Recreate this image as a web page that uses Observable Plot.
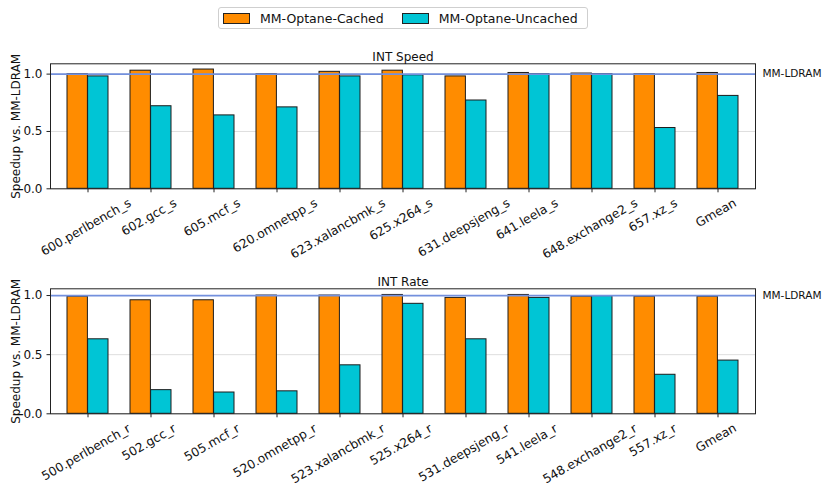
<!DOCTYPE html>
<html>
<head>
<meta charset="utf-8">
<script src="https://cdn.jsdelivr.net/npm/d3@7"></script>
<script src="https://cdn.jsdelivr.net/npm/@observablehq/plot@0.6"></script>
<style>
  html, body { margin: 0; padding: 0; background: #fff; }
  body { width: 830px; height: 494px; overflow: hidden; font-family: "DejaVu Sans", sans-serif; }
  #legendRow { height: 40px; position: relative; }
  #legend { position: absolute; left: 218px; top: 7px; width: 370px; height: 22px; box-sizing: border-box;
            border: 1px solid #cfcfcf; border-radius: 3px; display: flex; align-items: center; font-size: 12.5px; color: #111; }
  .item { display: flex; align-items: center; }
  .sw { width: 25px; height: 9px; border: 1px solid #222; margin-left: 4px; margin-right: 10px; }
  svg { display: block; }
</style>
</head>
<body>
<div id="legendRow"><div id="legend"></div></div>
<div id="p1"></div>
<div id="p2"></div>
<script>
const seriesNames = ["MM-Optane-Cached", "MM-Optane-Uncached"];
const seriesColors = ["#ff8c00", "#00c5d5"];

const speedBenches = ["600.perlbench_s", "602.gcc_s", "605.mcf_s", "620.omnetpp_s", "623.xalancbmk_s",
  "625.x264_s", "631.deepsjeng_s", "641.leela_s", "648.exchange2_s", "657.xz_s", "Gmean"];
const speedCached = [1.00, 1.03, 1.04, 1.00, 1.02, 1.03, 0.98, 1.01, 1.005, 1.00, 1.01];
const speedUncached = [0.98, 0.72, 0.64, 0.71, 0.98, 0.99, 0.77, 1.00, 1.00, 0.53, 0.81];

const rateBenches = ["500.perlbench_r", "502.gcc_r", "505.mcf_r", "520.omnetpp_r", "523.xalancbmk_r",
  "525.x264_r", "531.deepsjeng_r", "541.leela_r", "548.exchange2_r", "557.xz_r", "Gmean"];
const rateCached = [0.99, 0.96, 0.96, 1.00, 1.00, 1.005, 0.98, 1.005, 0.99, 0.99, 0.99];
const rateUncached = [0.63, 0.20, 0.18, 0.19, 0.41, 0.93, 0.63, 0.98, 0.995, 0.33, 0.45];

const yTicks = [0, 0.5, 1.0];
const baselineValue = [1.0];
const baselineLabel = "MM-LDRAM";
const yLabel = "Speedup vs. MM-LDRAM";

// legend
const legend = document.getElementById("legend");
seriesNames.forEach((name, i) => {
  const it = document.createElement("div");
  it.className = "item";
  it.style.marginRight = i === 0 ? "14px" : "0";
  const sw = document.createElement("div");
  sw.className = "sw";
  sw.style.background = seriesColors[i];
  const tx = document.createElement("span");
  tx.textContent = name;
  it.appendChild(sw); it.appendChild(tx);
  legend.appendChild(it);
});

const W = 830, ML = 50, MR = 75, PIN = 0.348, POUT = 0.25, FRAME_H = 125;

function panel(el, {benches, cached, uncached, title, yMax, height, marginTop}) {
  const n = benches.length;
  const step = (W - ML - MR) / (n - PIN + 2 * POUT);
  const half = step * (1 - PIN) / 2;
  const svg = Plot.plot({
    width: W,
    height,
    marginLeft: ML,
    marginRight: MR,
    marginTop,
    marginBottom: height - marginTop - FRAME_H,
    style: {fontFamily: "DejaVu Sans", fontSize: "12px", color: "#111", background: "#fff"},
    x: {domain: benches, paddingInner: PIN, paddingOuter: POUT, axis: null},
    y: {domain: [0, yMax], axis: null},
    marks: [
      Plot.ruleY(yTicks, {stroke: "#dedede", strokeWidth: 1}),
      Plot.barY(benches, {x: d => d, y: (d, i) => cached[i], fill: seriesColors[0], stroke: "#1c1c1c",
        strokeWidth: 1, insetRight: half}),
      Plot.barY(benches, {x: d => d, y: (d, i) => uncached[i], fill: seriesColors[1], stroke: "#1c1c1c",
        strokeWidth: 1, insetLeft: half}),
      Plot.ruleY(baselineValue, {stroke: "#7390dd", strokeWidth: 1.8}),
      Plot.frame({stroke: "#222", strokeWidth: 1}),
      Plot.axisY(yTicks, {anchor: "left", tickSize: 3.5, tickPadding: 4.5, tickFormat: d3.format(".1f"),
        label: yLabel, labelAnchor: "center", labelArrow: "none", labelOffset: 39, fontSize: 12, stroke: "#222"}),
      Plot.axisX({tickSize: 4, tickFormat: () => "", label: null, stroke: "#222"}),
      Plot.text(benches, {x: d => d, text: d => d, frameAnchor: "bottom", rotate: -30, textAnchor: "middle",
        fontSize: 12.3, fill: "#111"}),
      Plot.text([title], {frameAnchor: "top", dy: -11, fontSize: 12, fill: "#111"}),
      Plot.text([baselineLabel], {y: baselineValue, frameAnchor: "right", dx: 7,
        textAnchor: "start", fontSize: 10.5, fill: "#111"})
    ]
  });
  el.appendChild(svg);
  // place rotated tick labels like matplotlib: rotated box centred on the tick, its top just below the tick
  const names = new Set(benches);
  const svgTop = svg.getBoundingClientRect().top;
  const targetTop = marginTop + FRAME_H + 7.5;
  Array.from(svg.querySelectorAll("text")).filter(t => names.has(t.textContent) &&
      /rotate/.test(t.getAttribute("transform") || "")).forEach(t => {
    const r = t.getBoundingClientRect();
    const dy = targetTop - (r.top - svgTop);
    const g = document.createElementNS("http://www.w3.org/2000/svg", "g");
    g.setAttribute("transform", `translate(0,${dy})`);
    t.parentNode.insertBefore(g, t);
    g.appendChild(t);
  });
}

panel(document.getElementById("p1"), {benches: speedBenches, cached: speedCached, uncached: speedUncached,
  title: "INT Speed", yMax: 1.09, height: 230, marginTop: 23.3});
panel(document.getElementById("p2"), {benches: rateBenches, cached: rateCached, uncached: rateUncached,
  title: "INT Rate", yMax: 1.057, height: 224, marginTop: 18.3});
</script>
</body>
</html>
